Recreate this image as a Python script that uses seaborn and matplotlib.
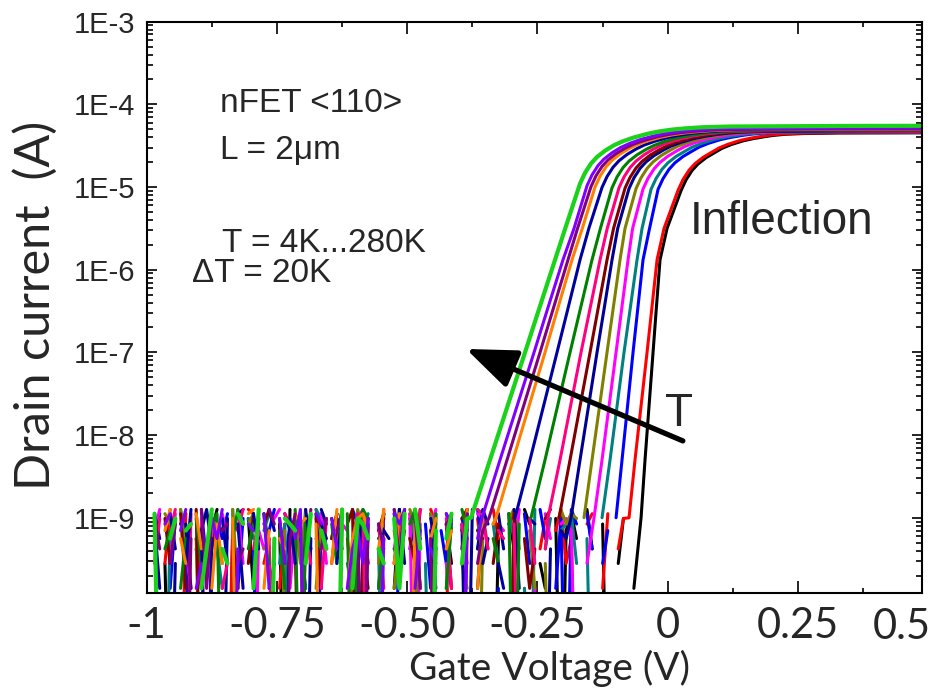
import numpy as np
import pandas as pd
import matplotlib
matplotlib.use("Agg")
import matplotlib.pyplot as plt
import seaborn as sns
from matplotlib.ticker import FixedLocator, FixedFormatter, LogLocator, NullFormatter

# ------------------------------------------------------------------ data
TEMPS_K = [4, 20, 40, 60, 80, 100, 120, 140, 160, 180, 200, 220, 240, 260, 280]
COLORS = ["#000000", "#FF0000", "#0000FF", "#008080", "#FF00FF", "#808000", "#000090",
          "#800000", "#FF0080", "#008000", "#0000A0", "#FF8000", "#800080", "#8000FF", "#19D219"]

# subthreshold part: gate voltage (mV) at these drain-current levels (log10 A)
SUB_LOGI = [-9.0, -8.3, -7.0, -6.5, -5.88, -5.5]
SUB_MV = [
    [-51.2, -43.6, -28.2, -22.3, -14.8, -1.3],          # 4 K
    [-74.3, -62.8, -39.7, -31.1, -20.5, -7.1],          # 20 K
    [-99.2, -87.7, -66.6, -58.0, -47.4, -34.9],         # 40 K
    [-126.1, -110.7, -83.9, -72.7, -58.9, -49.3],       # 60 K
    [-141.5, -126.1, -99.2, -88.9, -76.2, -67.4],       # 80 K
    [-160.7, -145.3, -116.5, -105.4, -91.6, -82.0],     # 100 K
    [-185.6, -168.3, -135.7, -122.8, -106.9, -96.0],    # 120 K
    [-208.6, -187.5, -149.1, -134.5, -116.5, -104.0],   # 140 K
    [-229.7, -206.7, -166.4, -150.1, -129.9, -116.1],   # 160 K
    [-262.4, -235.5, -187.5, -168.7, -145.3, -129.2],   # 180 K
    [-293.1, -264.3, -212.5, -192.7, -168.3, -151.4],   # 200 K
    [-329.6, -296.9, -235.5, -212.5, -183.7, -163.9],   # 220 K
    [-343.0, -308.4, -245.1, -221.1, -191.4, -173.1],   # 240 K
    [-356.4, -321.9, -256.6, -231.9, -201.0, -179.8],   # 260 K
    [-377.5, -341.1, -273.9, -248.2, -216.3, -196.7],   # 280 K
]

# saturation current (A) of each curve
ISAT = [4.52e-5, 4.57e-5, 4.68e-5, 4.68e-5, 4.73e-5, 4.79e-5, 4.79e-5, 4.84e-5,
        4.90e-5, 4.90e-5, 4.95e-5, 5.01e-5, 5.07e-5, 5.19e-5, 5.50e-5]

# knee: gate voltage (mV) where the current reaches these fractions of ISAT
KNEE_FRAC = [0.2, 0.27, 0.35, 0.42, 0.5, 0.58, 0.65, 0.72, 0.8, 0.85, 0.9, 0.93, 0.96, 0.98]
KNEE_MV = [
    [25.5, 35.1, 46.6, 58.1, 73.5, 90.8, 104.2, 121.5, 144.5, 163.7, 186.7, 202.1, 225.1, 259.7],
    [19.8, 29.4, 40.9, 52.4, 67.8, 85.1, 98.5, 115.8, 138.8, 158.0, 181.0, 196.4, 219.4, 254.0],
    [-18.6, -9.0, 2.5, 14.0, 29.4, 46.7, 60.3, 77.9, 101.2, 120.6, 143.8, 159.9, 183.7, 219.6],
    [-32.1, -22.5, -11.0, 0.5, 15.9, 33.2, 47.2, 64.8, 88.4, 107.8, 131.4, 148.3, 172.9, 210.1],
    [-47.4, -37.8, -26.3, -14.8, 0.6, 17.7, 32.1, 50.1, 74.1, 93.5, 117.5, 134.9, 160.3, 198.7],
    [-60.8, -51.2, -39.7, -28.2, -12.8, 4.3, 19.0, 37.3, 61.5, 81.0, 105.2, 123.5, 149.4, 189.3],
    [-74.3, -64.7, -53.2, -41.7, -26.3, -9.2, 5.7, 24.2, 48.7, 68.3, 92.9, 111.9, 138.6, 179.8],
    [-82.0, -72.4, -60.9, -49.4, -34.0, -16.9, -1.8, 17.0, 41.8, 61.6, 86.3, 106.1, 133.6, 176.2],
    [-93.5, -83.9, -72.4, -60.9, -45.5, -28.6, -12.9, 5.9, 31.1, 50.8, 76.0, 96.5, 124.7, 168.5],
    [-106.9, -97.3, -85.8, -74.3, -58.9, -42.0, -26.1, -6.9, 18.4, 38.4, 63.7, 85.0, 114.0, 159.1],
    [-126.1, -116.5, -105.0, -93.5, -78.1, -61.2, -45.1, -25.5, 0.0, 20.2, 45.7, 67.8, 97.5, 144.0],
    [-139.5, -129.9, -118.4, -106.9, -91.5, -74.6, -58.1, -38.5, -12.4, 7.5, 33.6, 56.3, 86.6, 134.6],
    [-147.2, -137.6, -126.1, -114.6, -99.2, -82.3, -65.6, -45.7, -19.4, 0.8, 27.1, 50.5, 81.6, 130.7],
    [-154.9, -145.3, -133.8, -122.3, -106.9, -90.2, -72.9, -53.0, -26.3, -6.1, 20.5, 44.7, 76.6, 127.1],
    [-168.3, -158.7, -147.2, -135.7, -120.3, -103.6, -86.1, -65.8, -38.9, -18.6, 8.3, 33.2, 65.9, 117.7],
]
TAIL_MV = [330.0, 490.0]
TAIL_FRAC = [0.995, 1.0]

# noise floor, one reading every 10 mV from -985 mV:
# digit d -> d * 1.4e-10 A ('0' = below the axis), '.' = no reading
NOISE_MV0 = -985.0
NOISE_STEP_MV = 10.0
NOISE_UNIT = 1.4e-10
NOISE_LOW = 1e-12
NOISE = [
    "9.20.68.31.59.042.71.83.609.52.81.749.03" "62.58.19.740.83.62.59.17.04.83.96.21.705" "84.93.60.27.18.59.47.36.09.28.51.73.8.94",
    "6.29.08.41.73.065.98.24.16.370.95.28.416" "37.09.52.841.96.30.58.72.94.68.10.37.592" "40.68.18.37.52.906.47.19.30.5.82.61.49.7",
    "38.17.50.92.648.17.30.59.26.41.083.75.96" "24.18.09.37.61.528.74.93.01.65.82.94.170" "96.83.25.04.78.316.09.43.72.8.51.69.02.4",
    "7.05.94.82.631.90.74.58.260.31.97.48.216" "58.30.95.47.208.16.39.57.62.84.109.37.56" "82.40.19.83.561.72.05.49.83.6.27.91.04.8",
    "59.28.31.706.84.92.053.79.16.43.82.065.7" "92.14.37.806.59.21.04.873.65.29.01.84.67" "50.23.91.864.73.02.65.98.01.4.73.58.26.9",
    "1.86.93.40.752.91.68.34.05.729.16.48.039" "57.28.14.960.85.37.21.04.68.793.51.20.96" "87.42.51.390.86.57.42.03.96.7.18.24.63.0",
    "84.02.61.593.07.89.64.12.857.04.96.73.12" "80.654.92.71.73.85.609.24.83.91.76.03.54" "68.21.75.930.24.83.91.65.08.7.39.14.52.6",
    "4.72.81.90.365.41.28.69.72.305.71.48.690" "31.57.28.429.03.61.79.54.26.08.413.79.82" "50.71.65.349.82.60.14.87.29.5.03.68.97.1",
    "27.59.08.436.12.59.37.40.862.52.17.39.48" "70.61.258.39.40.71.62.983.54.60.72.391.8" "57.40.21.869.63.50.47.18.35.2.96.08.74.5",
    "9.35.14.72.680.49.36.82.51.907.43.62.805" "97.14.32.695.08.17.95.36.42.806.79.83.15" "20.96.48.427.53.01.76.89.14.6.38.50.27.9",
    "61.83.29.504.72.61.83.95.072.93.64.28.17" "06.45.829.34.51.67.08.396.21.34.75.09.58" "27.39.61.845.02.78.39.61.26.0.57.84.93.2",
    "0.59.42.83.162.70.89.15.43.867.60.29.147" "85.39.28.061.47.35.29.18.650.41.38.77.29" "50.84.63.951.67.28.24.09.57.3.81.46.90.6",
    "73.26.04.918.56.23.17.96.048.29.37.58.14" "07.63.925.81.40.67.38.250.91.86.43.21.75" "95.30.64.823.01.79.64.08.25.1.69.37.48.0",
    "3.68.59.12.749.03.65.81.72.490.86.73.135" "27.04.869.15.32.86.07.495.83.12.60.39.17" "46.48.50.392.71.56.82.40.63.8.15.97.26.4",
    "80.47.56.139.32.86.19.04.765.28.53.09.17" "64.32.718.93.05.48.27.615.63.94.07.26.48" "58.31.07.954.16.27.38.95.20.1.74.36.82.9",
]

X_TICKS = [-1.0, -0.75, -0.5, -0.25, 0.0, 0.25]
X_TICKLABELS = ["-1", "-0.75", "-0.50", "-0.25", "0", "0.25"]
X_MINOR = [-0.875, -0.625, -0.375, -0.125, 0.125, 0.375]
Y_TICKS = [1e-9, 1e-8, 1e-7, 1e-6, 1e-5, 1e-4, 1e-3]
Y_TICKLABELS = ["1E-9", "1E-8", "1E-7", "1E-6", "1E-5", "1E-4", "1E-3"]

# ------------------------------------------------------------------ build table
frames = []
for k, T in enumerate(TEMPS_K):
    first = SUB_MV[k][0]
    mv, cur = [], []
    for i, ch in enumerate(NOISE[k]):
        v = NOISE_MV0 + NOISE_STEP_MV * i
        if v > first - 4.0:
            break
        mv.append(v)
        if ch == ".":
            cur.append(np.nan)
        elif ch == "0":
            cur.append(NOISE_LOW)
        else:
            cur.append(int(ch) * NOISE_UNIT)
    mv += SUB_MV[k] + KNEE_MV[k] + TAIL_MV
    cur += [10.0 ** l for l in SUB_LOGI]
    cur += [ISAT[k] * f for f in KNEE_FRAC]
    cur += [ISAT[k] * f for f in TAIL_FRAC]
    df = pd.DataFrame({"V": np.array(mv) / 1000.0, "I": cur})
    df["seg"] = df["I"].isna().cumsum()
    df = df.dropna()
    df["T"] = T
    frames.append(df)

# ------------------------------------------------------------------ plot
sns.set_theme(style="ticks")
plt.rcParams["font.family"] = ["Liberation Sans", "DejaVu Sans"]
LABEL_FONT = ["Lato", "Liberation Sans", "DejaVu Sans"]

fig = plt.figure(figsize=(9.32, 6.98), dpi=100)
ax = fig.add_axes([0.1574, 0.15, 0.8316, 0.819])
ax.set_yscale("log")
ax.set_facecolor("white")

for k, df in enumerate(frames):
    sns.lineplot(data=df, x="V", y="I", units="seg", estimator=None, sort=False,
                 color=COLORS[k], lw=3.0 if k == 14 else 2.2, ax=ax, legend=False)

ax.set_xlim(-1.0, 0.4875)
ax.set_ylim(1.22e-10, 1e-3)

ax.xaxis.set_major_locator(FixedLocator(X_TICKS))
ax.xaxis.set_major_formatter(FixedFormatter(X_TICKLABELS))
ax.xaxis.set_minor_locator(FixedLocator(X_MINOR))
ax.yaxis.set_major_locator(FixedLocator(Y_TICKS))
ax.yaxis.set_major_formatter(FixedFormatter(Y_TICKLABELS))
ax.yaxis.set_minor_locator(LogLocator(base=10, subs=np.arange(2, 10), numticks=20))
ax.yaxis.set_minor_formatter(NullFormatter())

ax.tick_params(which="both", direction="in", top=True, right=True, color="black", width=1.2)
ax.tick_params(axis="x", which="major", length=8.5, pad=10, labelsize=30)
ax.tick_params(axis="x", which="minor", length=3.6)
ax.tick_params(axis="y", which="major", length=7, pad=8, labelsize=21)
ax.tick_params(axis="y", which="minor", length=4)
for lab in ax.get_xticklabels():
    lab.set_family(LABEL_FONT)
for sp in ax.spines.values():
    sp.set_visible(True)
    sp.set_linewidth(1.5)
    sp.set_color("black")

ax.set_xlabel("")
ax.set_ylabel("")
fig.text(0.590, 0.042, "Gate Voltage (V)", ha="center", va="center", fontsize=28, family=LABEL_FONT)
fig.text(0.038, 0.562, "Drain current  (A)", ha="center", va="center", rotation=90,
         fontsize=35, family=LABEL_FONT)
# last x tick label, squeezed against the right edge of the figure
fig.text(0.999, 0.1285, "0.5", ha="right", va="top", fontsize=30, family=LABEL_FONT)

ax.text(0.0946, 0.842, "nFET <110>", transform=ax.transAxes, fontsize=24, va="baseline")
ax.text(0.0946, 0.760, "L = 2\u03bcm", transform=ax.transAxes, fontsize=24, va="baseline")
ax.text(0.097, 0.597, "T = 4K...280K", transform=ax.transAxes, fontsize=24, va="baseline")
ax.text(0.0585, 0.545, "\u0394T = 20K", transform=ax.transAxes, fontsize=24, va="baseline")
ax.text(0.701, 0.629, "Inflection", transform=ax.transAxes, fontsize=33, va="baseline")
ax.text(0.687, 0.293, "T", transform=ax.transAxes, fontsize=33, va="baseline", ha="center")

ax.annotate("", xy=(-0.387, 1.10e-7), xytext=(0.029, 8.5e-9),
            arrowprops=dict(arrowstyle="-|>,head_length=1.4,head_width=0.55",
                            lw=3.8, color="black", mutation_scale=22, shrinkA=0, shrinkB=0))

fig.savefig("out.png", dpi=100, facecolor="white")
